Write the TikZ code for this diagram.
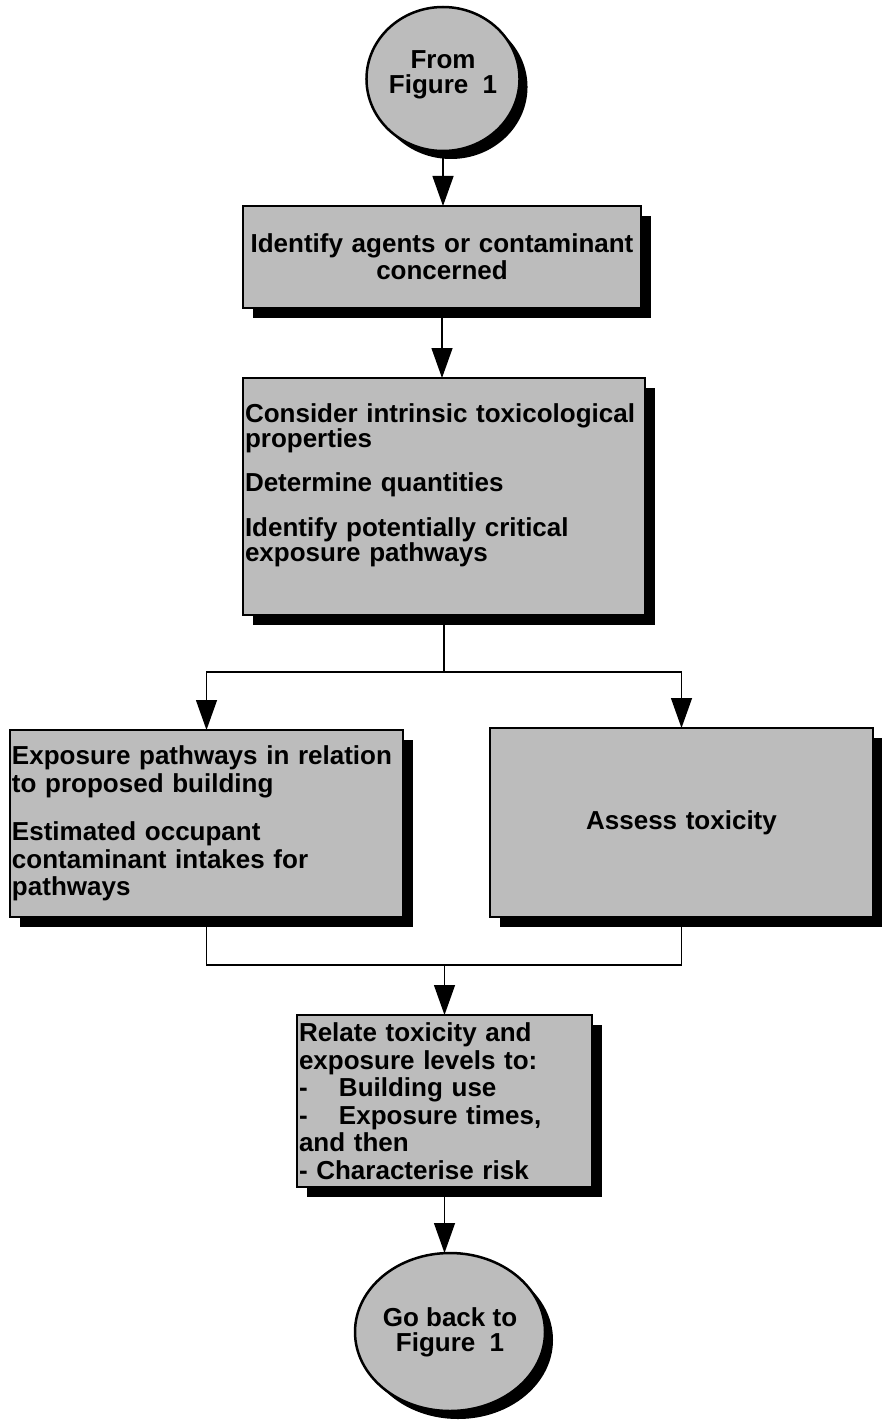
\documentclass[tikz,border=0pt]{standalone}
\usepackage{fontspec}
\setmainfont{Liberation Sans}
\usetikzlibrary{arrows.meta,shadows,shapes.geometric}
\definecolor{stip}{RGB}{188,188,188}
\begin{document}
\begin{tikzpicture}[x=1pt,y=-1pt,
  txt/.style={font=\fontsize{26}{26}\selectfont\bfseries},
  box/.style={txt, draw=black, line width=2.5pt, fill=stip, inner xsep=2pt, inner ysep=0pt, outer sep=0pt,
    anchor=north west, align=left,
    drop shadow={shadow xshift=10pt, shadow yshift=-10pt, fill=black, opacity=1}},
  term/.style={txt, ellipse, draw=black, line width=2.5pt, fill=stip, inner sep=0pt, outer sep=0pt, align=center,
    drop shadow={shadow xshift=8pt, shadow yshift=-8pt, fill=black, opacity=1}},
  arr/.style={line width=1.3pt, -{Triangle[length=30pt,width=21pt]}},
  lin/.style={line width=1.3pt}]
\useasboundingbox (0,0) rectangle (881,1420);

\node[term, minimum width=134pt, minimum height=144pt] (c1) at (443,79) {From\\[-1pt]Figure\hspace{0.55em}1\par\vspace*{8pt}};

\node[box, minimum width=398pt, minimum height=102pt, text width=394pt, align=center,
  font=\fontsize{26}{27}\selectfont\bfseries] (b1) at (243,206)
  {Identify agents or contaminant\\concerned};

\node[box, minimum width=402pt, minimum height=237pt, text width=398pt,
  font=\fontsize{26}{24}\selectfont\bfseries] (b2) at (243,378)
  {Consider intrinsic toxicological\\properties\\[19pt]Determine quantities\\[19pt]Identify potentially critical\\exposure pathways\par\vspace*{4pt}\hbox{}};

\node[box, minimum width=393pt, minimum height=187pt, text width=389pt,
  font=\fontsize{26}{27.5}\selectfont\bfseries] (b3) at (10,730)
  {Exposure pathways in relation\\to proposed building\\[21pt]Estimated occupant\\contaminant intakes for\\pathways};

\node[box, minimum width=383pt, minimum height=189pt, text width=379pt, align=center] (b4) at (490,728)
  {Assess toxicity};

\node[box, minimum width=295pt, minimum height=172pt, text width=291pt,
  font=\fontsize{26}{27.5}\selectfont\bfseries] (b5) at (297,1015)
  {Relate toxicity and\\exposure levels to:\\\makebox[40pt][l]{-}Building use\\\makebox[40pt][l]{-}Exposure times,\\and then\\- Characterise risk};

\node[term, minimum width=124pt, minimum height=158pt] (c2) at (450,1332) {Go back to\\[-1pt]Figure\hspace{0.55em}1};

\draw[arr] (c1.south) -- (c1.south |- b1.north);
\draw[arr] (b1.south) -- (b1.south |- b2.north);

\coordinate (j1) at ([yshift=-57pt]b2.south);
\draw[lin] (b2.south) -- (j1);
\draw[arr] (j1) -| (b3.north);
\draw[arr] (j1) -| (b4.north);

\coordinate (j2) at (b5.north |- 0,965);
\draw[lin] (b3.south) |- (j2);
\draw[lin] (b4.south) |- (j2);
\draw[arr] (j2) -- (b5.north);

\draw[arr] (b5.south) -- (b5.south |- c2.north);
\end{tikzpicture}
\end{document}
